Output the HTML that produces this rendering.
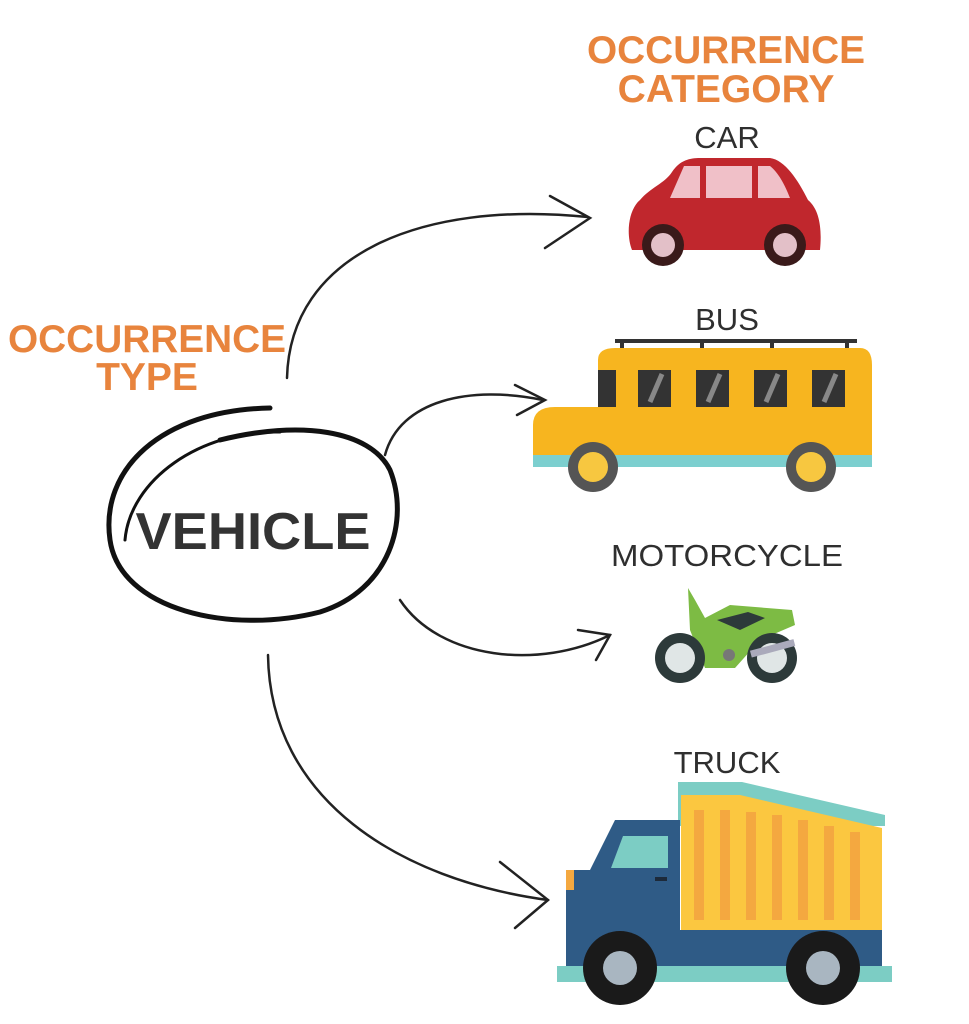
<!DOCTYPE html>
<html><head><meta charset="utf-8"><style>
html,body{margin:0;padding:0;background:#fff;}
svg{display:block;}
</style></head><body>
<svg width="969" height="1024" viewBox="0 0 969 1024" xmlns="http://www.w3.org/2000/svg">
<rect width="969" height="1024" fill="#fff"/>
<g font-family="Liberation Sans, sans-serif" font-weight="bold" fill="#e8843d" font-size="39" text-anchor="middle">
<text x="726" y="63" textLength="278" lengthAdjust="spacingAndGlyphs">OCCURRENCE</text>
<text x="726" y="102">CATEGORY</text>
<text x="147" y="352" textLength="278" lengthAdjust="spacingAndGlyphs">OCCURRENCE</text>
<text x="147" y="390">TYPE</text>
</g>
<g font-family="Liberation Sans, sans-serif" fill="#2f2f2f" font-size="31" text-anchor="middle">
<text x="727" y="148">CAR</text>
<text x="727" y="330">BUS</text>
<text x="727" y="566" textLength="232" lengthAdjust="spacingAndGlyphs">MOTORCYCLE</text>
<text x="727" y="773">TRUCK</text>
</g>
<text x="253" y="549" font-family="Liberation Sans, sans-serif" font-weight="bold" font-size="52" fill="#333" text-anchor="middle" textLength="235" lengthAdjust="spacingAndGlyphs">VEHICLE</text>
<g fill="none" stroke="#111" stroke-linecap="round">
<path d="M270,408 C160,410 100,470 110,540 C120,610 230,635 320,612 C390,590 410,520 390,470 C370,430 300,420 220,440" stroke-width="5"/>
<path d="M280,432 C200,430 130,480 125,540" stroke-width="3"/>
</g>
<g fill="none" stroke="#222" stroke-width="2.5" stroke-linecap="round">
<path d="M287,378 C290,255 420,200 588,217"/>
<path d="M550,196 L590,218 L545,248"/>
<path d="M385,455 C400,400 470,385 543,400"/>
<path d="M515,385 L545,400 L517,415"/>
<path d="M400,600 C440,660 540,670 610,635"/>
<path d="M578,630 L610,635 L596,660"/>
<path d="M268,655 C270,800 400,880 548,900"/>
<path d="M500,862 L548,900 L515,928"/>
</g>
<!-- car -->
<g>
<path d="M640,200 C650,188 665,183 672,172 C680,160 690,158 700,158 L770,158 C785,160 798,180 808,200 C820,210 822,230 820,250 L632,250 C626,235 628,210 640,200 Z" fill="#c0272d"/>
<path d="M684,166 L700,166 L700,198 L670,198 Z M706,166 L752,166 L752,198 L706,198 Z M758,166 L770,166 C778,172 785,185 790,198 L758,198 Z" fill="#f0c0c8"/>
<circle cx="663" cy="245" r="21" fill="#3a1a1a"/><circle cx="663" cy="245" r="12" fill="#e3c0c8"/>
<circle cx="785" cy="245" r="21" fill="#3a1a1a"/><circle cx="785" cy="245" r="12" fill="#e3c0c8"/>
</g>
<!-- bus -->
<g>
<rect x="615" y="339" width="242" height="4" fill="#333"/>
<rect x="620" y="339" width="4" height="12" fill="#333"/><rect x="700" y="339" width="4" height="12" fill="#333"/><rect x="770" y="339" width="4" height="12" fill="#333"/><rect x="845" y="339" width="4" height="12" fill="#333"/>
<path d="M598,360 Q598,348 615,348 L860,348 Q872,348 872,365 L872,460 L533,460 L533,425 Q533,407 555,407 L598,407 Z" fill="#f7b51f"/>
<rect x="598" y="370" width="18" height="37" fill="#333"/>
<g fill="#333"><rect x="638" y="370" width="33" height="37"/><rect x="696" y="370" width="33" height="37"/><rect x="754" y="370" width="33" height="37"/><rect x="812" y="370" width="33" height="37"/></g>
<g stroke="#888" stroke-width="5"><line x1="650" y1="402" x2="662" y2="374"/><line x1="708" y1="402" x2="720" y2="374"/><line x1="766" y1="402" x2="778" y2="374"/><line x1="824" y1="402" x2="836" y2="374"/></g>
<rect x="533" y="455" width="339" height="12" fill="#7ccfcf"/>
<circle cx="593" cy="467" r="25" fill="#555"/><circle cx="593" cy="467" r="15" fill="#f7c740"/>
<circle cx="811" cy="467" r="25" fill="#555"/><circle cx="811" cy="467" r="15" fill="#f7c740"/>
</g>
<!-- motorcycle -->
<g>
<path d="M688,588 L695,600 L705,618 L730,605 L792,610 L795,625 L760,640 L735,668 L705,668 L690,630 Z" fill="#7dbb44"/>
<path d="M717,620 L748,612 L765,618 L740,630 Z" fill="#2d3a3a"/>
<circle cx="680" cy="658" r="25" fill="#2d3a3a"/><circle cx="680" cy="658" r="15" fill="#e0e6e6"/>
<circle cx="772" cy="658" r="25" fill="#2d3a3a"/><circle cx="772" cy="658" r="15" fill="#e0e6e6"/>
<circle cx="729" cy="655" r="6" fill="#777"/>
<rect x="750" y="645" width="45" height="7" fill="#aab" transform="rotate(-15 772 648)"/>
</g>
<!-- truck -->
<g>
<path d="M678,782 L742,782 L885,815 L885,826 L678,826 Z" fill="#7ccdc4"/>
<path d="M681,795 L740,795 L882,828 L882,935 L681,935 Z" fill="#fbc740"/>
<g fill="#f4a840"><rect x="694" y="810" width="10" height="110"/><rect x="720" y="810" width="10" height="110"/><rect x="746" y="812" width="10" height="108"/><rect x="772" y="815" width="10" height="105"/><rect x="798" y="820" width="10" height="100"/><rect x="824" y="826" width="10" height="94"/><rect x="850" y="832" width="10" height="88"/></g>
<path d="M615,820 L680,820 L680,930 L882,930 L882,968 L566,968 L566,870 L590,870 Z" fill="#2f5b86"/>
<path d="M623,836 L668,836 L668,868 L611,868 Z" fill="#7ccdc4"/>
<rect x="566" y="870" width="8" height="20" fill="#f4a840"/>
<rect x="655" y="877" width="12" height="4" fill="#1d2a3a"/>
<rect x="557" y="966" width="335" height="16" fill="#7ccdc4"/>
<circle cx="620" cy="968" r="37" fill="#1a1a1a"/><circle cx="620" cy="968" r="17" fill="#a9b6c1"/>
<circle cx="823" cy="968" r="37" fill="#1a1a1a"/><circle cx="823" cy="968" r="17" fill="#a9b6c1"/>
</g>
</svg>
</body></html>
